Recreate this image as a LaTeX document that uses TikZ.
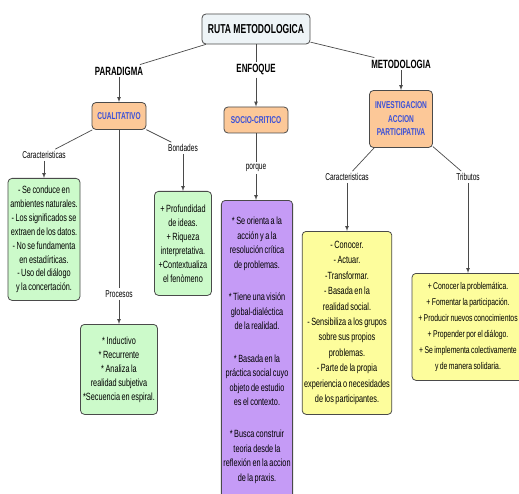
\documentclass[tikz,border=0pt]{standalone}
\usepackage{fontspec}
\setmainfont[FakeStretch=0.66]{Liberation Sans}
\newfontfamily\boxfont[FakeStretch=0.7,WordSpace=0.75]{Liberation Sans}
\usetikzlibrary{positioning}
\definecolor{rootfill}{HTML}{EEF4F7}
\definecolor{orangefill}{HTML}{FCC898}
\definecolor{keyblue}{HTML}{3A50D8}
\definecolor{greenfill}{HTML}{CCFACA}
\definecolor{purplefill}{HTML}{C59BF6}
\definecolor{yellowfill}{HTML}{FDFD9C}
\definecolor{linegray}{HTML}{4A4A4A}
\tikzset{rootbox/.style={draw=linegray,line width=0.8pt,fill=rootfill,rounded corners=4pt,font=\bfseries\fontsize{13}{15}\selectfont,minimum width=108bp,minimum height=30bp},
keybox/.style={draw=linegray,line width=0.8pt,fill=orangefill,rounded corners=4pt,align=center,text=keyblue,font=\bfseries\fontsize{10}{13.5}\selectfont},
head/.style={font=\bfseries\fontsize{12}{14}\selectfont,inner sep=2pt},
link/.style={font=\fontsize{10}{12}\selectfont,inner sep=2pt},
textbox/.style={draw=linegray,line width=0.8pt,rounded corners=4pt,anchor=north,align=center,inner sep=2pt,font=\boxfont\fontsize{10.5}{14}\selectfont},
conn/.style={draw=linegray,line width=0.7pt},
arr/.style={conn,-latex}}

\begin{document}
\begin{tikzpicture}[x=1bp,y=-1bp]
\useasboundingbox[fill=white] (0,0) rectangle (519,494);
% top of the map
\node[rootbox] (ruta) at (256,29) {RUTA METODOLOGICA};
\node[head] (paradigma) at (119,71) {PARADIGMA};
\node[head] (enfoque) at (256,70) {ENFOQUE};
\node[head] (metodologia) at (401,64) {METODOLOGIA};
\node[keybox,minimum width=54bp,minimum height=27bp] (cualitativo) at (119,116) {CUALITATIVO};
\node[keybox,minimum width=64bp,minimum height=26bp] (socio) at (256,120) {SOCIO-CRITICO};
\node[keybox,minimum width=63bp,minimum height=57bp] (iap) at (401,119) {INVESTIGACION\\ACCION\\PARTICIPATIVA};
% linking words
\node[link] (carac1) at (44,155) {Caracteristicas};
\node[link] (bondades) at (183,148) {Bondades};
\node[link] (procesos) at (119,294) {Procesos};
\node[link] (porque) at (256,168) {porque};
\node[link] (carac2) at (347,177) {Caracteristicas};
\node[link] (tributos) at (468,177) {Tributos};
% content boxes
\node[textbox,fill=greenfill,minimum width=72bp,minimum height=122bp] (rasgos) at (44,178) {- Se conduce en\\ambientes naturales.\\- Los significados se\\extraen de los datos.\\- No se fundamenta\\en estadírticas.\\- Uso del diálogo\\y la concertación.};
\node[textbox,fill=greenfill,minimum width=57bp,minimum height=104bp] (bondbox) at (183,191) {+ Profundidad\\de ideas.\\+ Riqueza\\interpretativa.\\+Contextualiza\\el fenòmeno};
\node[textbox,fill=greenfill,minimum width=77bp,minimum height=90bp] (procbox) at (119,324) {{*} Inductivo\\{*} Recurrente\\{*} Analiza la\\realidad subjetiva\\{*}Secuencia en espiral.};
\node[textbox,fill=purplefill,minimum width=71bp,minimum height=300bp,font=\boxfont\fontsize{10.5}{14.5}\selectfont] (critica) at (257,200) {{*} Se orienta a la\\acción y a la\\resolución crítica\\de problemas.\\[18bp]{*} Tiene una visión\\global-dialéctica\\de la realidad.\\[18bp]{*} Basada en la\\práctica social cuyo\\objeto de estudio\\es el contexto.\\[18bp]{*} Busca construir\\teoria desde la\\reflexión en la accion\\de la praxis.};
\node[textbox,fill=yellowfill,minimum width=89bp,minimum height=183bp,font=\boxfont\fontsize{10.5}{15.5}\selectfont] (iapbox) at (347,231) {- Conocer.\\- Actuar.\\-Transformar.\\- Basada en la\\realidad social.\\- Sensibiliza a los grupos\\sobre sus propios\\problemas.\\- Parte de la propia\\experiencia o necesidades\\de los participantes.};
\node[textbox,fill=yellowfill,minimum width=112bp,minimum height=107bp,font=\boxfont\fontsize{9.8}{16}\selectfont] (tribbox) at (468,273) {+ Conocer la problemática.\\+ Fomentar la participación.\\+ Producir nuevos conocimientos\\+ Propender por el diálogo.\\+ Se implementa colectivamente\\y de manera solidaria.};
% connectors
\draw[conn] (ruta) -- (paradigma);
\draw[conn] (ruta) -- (enfoque);
\draw[conn] (ruta) -- (metodologia);
\draw[arr] (paradigma) -- (cualitativo);
\draw[arr] (enfoque) -- (socio);
\draw[arr] (metodologia) -- (iap);
\draw[conn] (cualitativo) -- (carac1);
\draw[conn] (cualitativo) -- (bondades);
\draw[conn] (cualitativo) -- (procesos);
\draw[arr] (carac1) -- (rasgos);
\draw[arr] (bondades) -- (bondbox);
\draw[arr] (procesos) -- (procbox);
\draw[conn] (socio) -- (porque);
\draw[arr] (porque) -- (porque |- critica.north);
\draw[conn] (iap) -- (carac2);
\draw[conn] (iap) -- (tributos);
\draw[arr] (carac2) -- (iapbox);
\draw[arr] (tributos) -- (tribbox);
\end{tikzpicture}
\end{document}
